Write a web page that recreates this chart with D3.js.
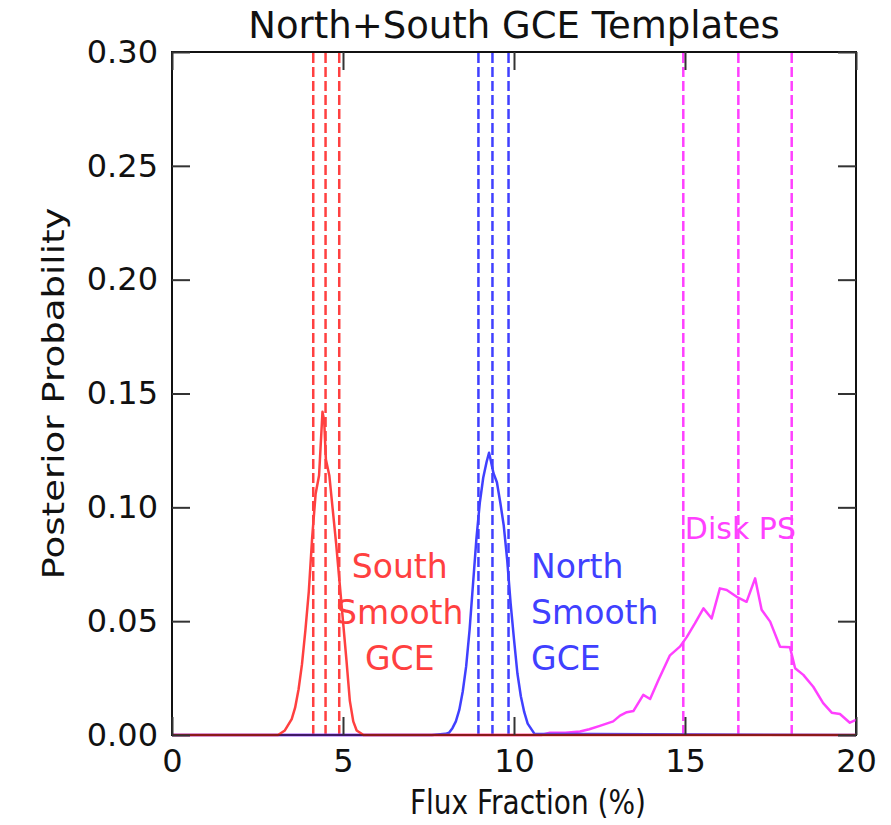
<!DOCTYPE html>
<html>
<head>
<meta charset="utf-8">
<script src="https://d3js.org/d3.v7.min.js"></script>
<style>
  body { margin: 0; background: #fff; }
  text { font-family: "DejaVu Sans", sans-serif; }
</style>
</head>
<body>
<div id="chart"></div>
<script>
// values
let xTicks = [0, 5, 10, 15, 20];
let yTicks = [0, 0.05, 0.10, 0.15, 0.20, 0.25, 0.30];

let southFlux = [0, 3.1, 3.3, 3.5, 3.6, 3.7, 3.8, 3.9, 4.0, 4.1, 4.2, 4.3, 4.4, 4.45, 4.5, 4.6, 4.7, 4.8, 4.9, 5.0, 5.1, 5.2, 5.3, 5.4, 5.6, 20];
let southProb = [0, 0, 0.002, 0.007, 0.012, 0.02, 0.031, 0.046, 0.063, 0.087, 0.106, 0.114, 0.142, 0.138, 0.121, 0.114, 0.099, 0.084, 0.067, 0.05, 0.033, 0.015, 0.006, 0.002, 0, 0];

let northFlux = [0, 7.6, 8.0, 8.1, 8.2, 8.3, 8.4, 8.5, 8.6, 8.7, 8.8, 8.9, 9.0, 9.1, 9.2, 9.27, 9.3, 9.4, 9.5, 9.6, 9.7, 9.8, 9.9, 10.0, 10.1, 10.2, 10.3, 10.4, 10.6, 20];
let northProb = [0, 0, 0.0005, 0.001, 0.003, 0.006, 0.011, 0.019, 0.03, 0.046, 0.066, 0.086, 0.102, 0.113, 0.12, 0.124, 0.122, 0.115, 0.111, 0.102, 0.092, 0.077, 0.058, 0.042, 0.027, 0.017, 0.01, 0.005, 0.0005, 0];

let diskFlux = [0, 10.8, 11.05, 11.5, 11.93, 12.2, 12.51, 12.9, 13.1, 13.3, 13.49, 13.78, 13.98, 14.22, 14.56, 14.85, 15.05, 15.29, 15.54, 15.78, 16.02, 16.22, 16.51, 16.8, 17.05, 17.24, 17.49, 17.78, 18.07, 18.22, 18.46, 18.75, 19.04, 19.29, 19.53, 19.82, 20];
let diskProb = [0, 0, 0.001, 0.001, 0.0015, 0.0025, 0.004, 0.006, 0.0085, 0.01, 0.0105, 0.0176, 0.0158, 0.024, 0.035, 0.0388, 0.043, 0.049, 0.0556, 0.0512, 0.0644, 0.0637, 0.0607, 0.0585, 0.0688, 0.055, 0.0498, 0.0388, 0.0385, 0.0293, 0.0264, 0.0212, 0.014, 0.0098, 0.0092, 0.0054, 0.0066];

// 16/50/84 percentile markers
let southLines = [4.13, 4.49, 4.89];
let northLines = [8.96, 9.37, 9.84];
let diskLines = [14.95, 16.56, 18.12];

let southLabel = ['South', 'Smooth', 'GCE'];
let northLabel = ['North', 'Smooth', 'GCE'];
let diskLabel = ['Disk PS'];

let margin = {top: 52, right: 35, bottom: 90, left: 172};
let width = 891, height = 825;
let w = width - margin.left - margin.right,
    h = height - margin.top - margin.bottom;

let red = '#ff4040', blue = '#4040ff', magenta = '#ff40ff';

let svg = d3.select('#chart').append('svg')
    .attr('width', width)
    .attr('height', height);

let g = svg.append('g')
    .attr('transform', 'translate(' + margin.left + ',' + margin.top + ')');

let x = d3.scaleLinear().domain([0, 20]).range([0, w]);
let y = d3.scaleLinear().domain([0, 0.30]).range([h, 0]);

g.append('clipPath').attr('id', 'clip')
  .append('rect').attr('y', -2).attr('width', w).attr('height', h + 4);

// frame goes under the curves, so the zero level reads as a dark red line
g.append('rect')
  .attr('width', w).attr('height', h)
  .attr('fill', 'none')
  .attr('stroke', '#111')
  .attr('stroke-width', 2);

let plot = g.append('g').attr('clip-path', 'url(#clip)');

let line = d3.line()
    .x(d => x(d[0]))
    .y(d => y(d[1]));

let series = [
  {xs: diskFlux, ys: diskProb, color: magenta, marks: diskLines},
  {xs: northFlux, ys: northProb, color: blue, marks: northLines},
  {xs: southFlux, ys: southProb, color: red, marks: southLines}
];

// dashed percentile lines
series.forEach(s => {
  plot.selectAll(null)
    .data(s.marks)
    .enter().append('line')
    .attr('x1', d => x(d)).attr('x2', d => x(d))
    .attr('y1', y(0)).attr('y2', y(0.30))
    .attr('stroke', s.color)
    .attr('stroke-width', 2.5)
    .attr('stroke-dasharray', '10,4');
});

// posterior curves
series.forEach(s => {
  plot.append('path')
    .datum(s.xs.map((v, i) => [v, s.ys[i]]))
    .attr('d', line)
    .attr('fill', 'none')
    .attr('stroke', s.color)
    .attr('stroke-width', 2.5)
    .attr('stroke-linejoin', 'round');
});

// dark overlay on the zero line, like the reference
g.append('line')
  .attr('x1', 0).attr('x2', w)
  .attr('y1', h).attr('y2', h)
  .attr('stroke', '#400000')
  .attr('stroke-opacity', 0.6)
  .attr('stroke-width', 2);

// axes with inward ticks on all four sides
let tickLen = 18;
let axB = d3.axisBottom(x).tickValues(xTicks).tickSize(-tickLen).tickPadding(14).tickFormat(d3.format('d'));
let axT = d3.axisTop(x).tickValues(xTicks).tickSize(-tickLen).tickFormat('');
let axL = d3.axisLeft(y).tickValues(yTicks).tickSize(-tickLen).tickPadding(14).tickFormat(d3.format('.2f'));
let axR = d3.axisRight(y).tickValues(yTicks).tickSize(-tickLen).tickFormat('');

function styleAxis(sel) {
  sel.select('.domain').remove();
  sel.selectAll('.tick line').attr('stroke', '#333').attr('stroke-width', 2);
  sel.selectAll('.tick text')
    .attr('fill', '#111')
    .style('font-family', '"DejaVu Sans", sans-serif')
    .style('font-size', '32px');
}

g.append('g').attr('transform', 'translate(0,' + h + ')').call(axB).call(styleAxis);
g.append('g').call(axT).call(styleAxis);
g.append('g').call(axL).call(styleAxis);
g.append('g').attr('transform', 'translate(' + w + ',0)').call(axR).call(styleAxis);

// curve labels, one text per line
function addLabel(lines, color, lx, base, anchor, size) {
  g.append('g')
    .selectAll('text')
    .data(lines)
    .enter().append('text')
    .attr('x', lx)
    .attr('y', (d, i) => base + i * 46)
    .attr('text-anchor', anchor)
    .attr('fill', color)
    .style('font-size', size + 'px')
    .text(d => d);
}
addLabel(southLabel, red, x(6.66), y(0.069), 'middle', 33);
addLabel(northLabel, blue, x(10.5), y(0.069), 'start', 33);
addLabel(diskLabel, magenta, x(16.62), y(0.086), 'middle', 30);

// titles
svg.append('text')
  .attr('x', margin.left + w / 2)
  .attr('y', 38)
  .attr('text-anchor', 'middle')
  .attr('fill', '#111')
  .style('font-size', '37px')
  .text('North+South GCE Templates');

svg.append('text')
  .attr('transform', 'translate(' + (margin.left + w / 2 + 14) + ',814) scale(1,1.2)')
  .attr('text-anchor', 'middle')
  .attr('fill', '#111')
  .style('font-size', '28px')
  .text('Flux Fraction (%)');

svg.append('text')
  .attr('transform', 'translate(64,' + (margin.top + h / 2) + ') rotate(-90)')
  .attr('text-anchor', 'middle')
  .attr('fill', '#111')
  .attr('textLength', 372)
  .attr('lengthAdjust', 'spacingAndGlyphs')
  .style('font-size', '31px')
  .text('Posterior Probability');
</script>
</body>
</html>
